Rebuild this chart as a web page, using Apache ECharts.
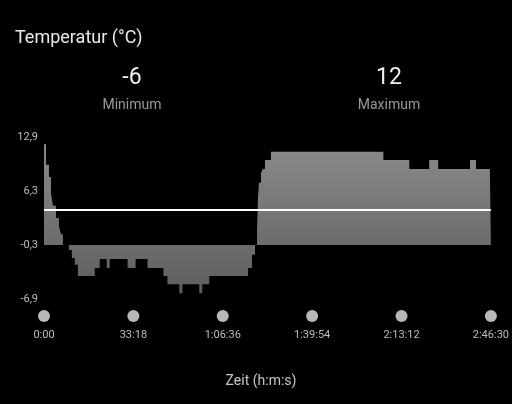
<!DOCTYPE html>
<html>
<head>
<meta charset="utf-8">
<script src="https://cdn.jsdelivr.net/npm/echarts@6/dist/echarts.min.js"></script>
<style>
  html, body { margin: 0; padding: 0; background: #000; }
  #chart { width: 512px; height: 404px; }
</style>
</head>
<body>
<div id="chart"></div>
<script>
// Zeitpunkte (Sekunden) und Temperaturwerte, stufenweise
const times = [0, 45, 111, 156, 200, 267, 334, 378, 423, 556, 623, 690, 757, 1135, 1246, 1402, 1469,
  1869, 2047, 2314, 2670, 2759, 3026, 3093, 3471, 3538, 3694, 4561, 4650, 4717, 4762, 4784, 4806,
  4851, 4895, 4940, 5073, 7587, 8166, 8611, 8811, 9523, 9657, 9968, 9990];
const temps = [12, 9.5, 8, 6, 4.5, 3, 2, 1, -0.3, -0.9, -1.9, -2.7, -4.1, -3.1, -2, -3.1, -2,
  -3.1, -2, -3.1, -4.1, -5.1, -6.2, -5.1, -6.2, -5.1, -4.1, -3.1, -1.5, -0.3, 1.5, 5.6, 7.3,
  8.5, 9, 10.1, 11.1, 10.1, 9, 10.1, 9, 10.1, 9, 8.5, 8.5];
const yTicks = [-6.9, -0.3, 6.3, 12.9];
const average = 4.0;
const minLabel = '-6';
const maxLabel = '12';

const fmtTime = (s) => {
  const h = Math.floor(s / 3600), m = Math.floor((s % 3600) / 60), sec = Math.round(s % 60);
  const ss = String(sec).padStart(2, '0');
  return h ? `${h}:${String(m).padStart(2, '0')}:${ss}` : `${m}:${ss}`;
};

const chart = echarts.init(document.getElementById('chart'), null, { renderer: 'canvas' });
chart.setOption({
  backgroundColor: '#000',
  animation: false,
  title: [
    { text: 'Temperatur (°C)', left: 10, top: 24, textStyle: { color: '#e8e8e8', fontSize: 18, fontWeight: 'normal', fontFamily: 'Roboto' } },
    { text: minLabel, subtext: 'Minimum', left: 127, top: 62, textAlign: 'center', itemGap: 8,
      textStyle: { color: '#eee', fontSize: 23, fontWeight: 'normal', fontFamily: 'Roboto' },
      subtextStyle: { color: '#9a9a9a', fontSize: 14, fontFamily: 'Roboto' } },
    { text: maxLabel, subtext: 'Maximum', left: 384, top: 62, textAlign: 'center', itemGap: 8,
      textStyle: { color: '#eee', fontSize: 23, fontWeight: 'normal', fontFamily: 'Roboto' },
      subtextStyle: { color: '#9a9a9a', fontSize: 14, fontFamily: 'Roboto' } },
    { text: 'Zeit (h:m:s)', left: 256, top: 369, textAlign: 'center', textStyle: { color: '#c8c8c8', fontSize: 14, fontWeight: 'normal', fontFamily: 'Roboto' } },
  ],
  grid: { left: 44, right: 19, top: 137, bottom: 105 },
  xAxis: {
    type: 'value', min: 0, max: 9990, interval: 1998,
    axisLine: { show: false }, axisTick: { show: false }, splitLine: { show: false },
    axisLabel: {
      margin: 11,
      formatter: (v) => `{dot|}\n{v|${fmtTime(v)}}`,
      rich: {
        dot: { width: 12, height: 12, borderRadius: 6, backgroundColor: '#b8b8b8' },
        v: { color: '#bdbdbd', fontSize: 11, fontFamily: 'Roboto', padding: [8, 0, 0, 0] },
      },
    },
  },
  yAxis: {
    type: 'value', min: yTicks[0], max: yTicks[yTicks.length - 1], interval: 6.6,
    axisLine: { show: false }, axisTick: { show: false }, splitLine: { show: false },
    axisLabel: { color: '#bdbdbd', fontSize: 11, fontFamily: 'Roboto', margin: 6,
      formatter: (v) => v.toFixed(1).replace('.', ',') },
  },
  series: [{
    type: 'line',
    step: 'end',
    showSymbol: false,
    data: times.map((t, i) => [t, temps[i]]),
    lineStyle: { width: 0 },
    areaStyle: { origin: -0.3, opacity: 1,
      color: new echarts.graphic.LinearGradient(0, 0, 0, 1, [
        { offset: 0, color: '#8a8a8a' }, { offset: 1, color: '#5e5e5e' }]) },
    markLine: {
      silent: true, symbol: 'none', label: { show: false },
      lineStyle: { color: '#fff', width: 2, type: 'solid' },
      data: [{ yAxis: average }],
    },
  }],
});
window.addEventListener('resize', () => chart.resize());
</script>
</body>
</html>
